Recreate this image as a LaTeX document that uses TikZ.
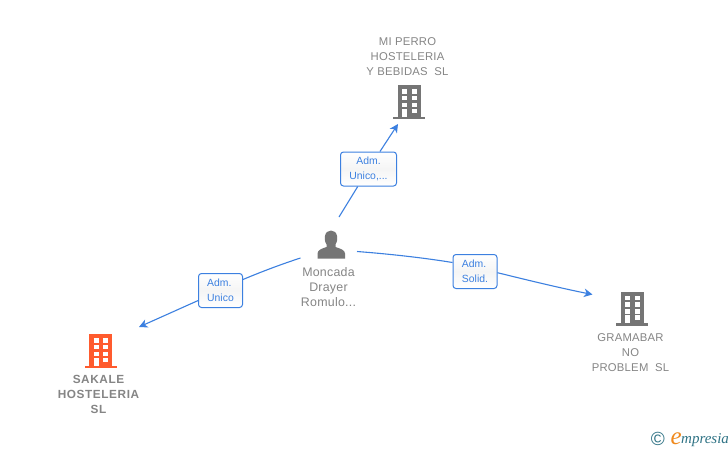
\documentclass[tikz,border=0pt]{standalone}
\usepackage{fontspec}
\setmainfont{Liberation Sans}
\newfontfamily\namefont[LetterSpace=2]{Liberation Sans}
\newfontfamily\boldfont[LetterSpace=5]{Liberation Sans Bold}
\newfontfamily\logofont{Liberation Serif}
\usetikzlibrary{arrows.meta}
\definecolor{bldgray}{HTML}{757575}
\definecolor{txtgray}{HTML}{858585}
\definecolor{bldorange}{HTML}{FF5B2E}
\definecolor{linkblue}{HTML}{3C80E0}
\definecolor{logoteal}{HTML}{2F7385}
\definecolor{logoorange}{HTML}{F08A1E}
\tikzset{
  x=1pt,y=-1pt,
  namelabel/.style={align=center,text=txtgray,font=\fontsize{11.3}{15}\selectfont\namefont,inner sep=0pt},
  personlabel/.style={align=center,text=txtgray,font=\fontsize{12.4}{15}\selectfont\namefont,inner sep=0pt},
  boldlabel/.style={align=center,text=txtgray,font=\fontsize{11.8}{15}\selectfont\boldfont,inner sep=0pt},
  rolebox/.style={draw=linkblue,line width=1pt,rounded corners=3pt,top color=white,bottom color=white,middle color=white!96!black,
    text=linkblue,font=\fontsize{10.4}{15.5}\selectfont,inner sep=0pt},
  link/.style={draw=linkblue,line width=1.1pt},
  linkarrow/.style={link,-{Stealth[length=8.5pt,width=8.5pt,inset=2.5pt]}},
  pics/building/.style={code={
    \fill[#1] (-11.5,-17) rectangle (11.5,14.5);
    \fill[#1] (-16,14.5) rectangle (16,17);
    \foreach \yy in {-13,-6.3,0.7}{
      \fill[white] (-7,\yy) rectangle (-2,\yy+4.6);
      \fill[white] (2.5,\yy) rectangle (7.5,\yy+4.6);
    }
    \fill[white] (-7,6.8) rectangle (-2,14.5);
    \fill[white] (2.5,6.8) rectangle (7.5,11.2);
  }},
}
\begin{document}
\begin{tikzpicture}
\useasboundingbox (0,0) rectangle (728,450);
\fill[white] (0,0) rectangle (728,450);
% buildings
\pic at (409,102) {building=bldgray};
\pic at (632,308.5) {building=bldgray};
\pic at (100.5,351) {building=bldorange};
% person
\fill[bldgray] (317.5,258.5) -- (317.5,253.5) .. controls (317.5,250) and (322,248.5) .. (326.5,247) -- (326.5,244.5)
  .. controls (324.5,241) and (324.5,238) .. (325,236) .. controls (325.5,232.5) and (328,230.5) .. (331,230.5)
  .. controls (334,230.5) and (336.5,232.5) .. (337,236) .. controls (337.5,238) and (337.5,241) .. (335.5,244.5)
  -- (335.5,247) .. controls (340,248.5) and (345,250) .. (345,253.5) -- (345,258.5) -- cycle;
% names
\node[namelabel] (top) at (407.5,56.5) {MI PERRO\\HOSTELERIA\\Y BEBIDAS\ \ SL};
\node[namelabel] (right) at (630.5,352.5) {GRAMABAR\\NO\\PROBLEM\ \ SL};
\node[boldlabel] (left) at (98.5,394.5) {SAKALE\\HOSTELERIA\\SL};
\node[personlabel] (person) at (328.5,287) {Moncada\\Drayer\\Romulo...};
% role boxes
\node[rolebox,align=center,minimum width=56pt,minimum height=34pt] (r1) at (368.5,169) {Adm.\\Unico,...};
\node[rolebox,align=left,minimum width=44pt,minimum height=34pt] (r2) at (220.5,290.5) {Adm.\\Unico};
\node[rolebox,align=left,minimum width=44pt,minimum height=34pt] (r3) at (475,271.5) {Adm.\\Solid.};
% link ends
\coordinate (a1) at (339,217);
\coordinate (e1) at (398,124);
\coordinate (a2) at (300.5,258);
\coordinate (e2) at (139,327);
\coordinate (a3) at (357,251.5);
\coordinate (e3) at (592.5,294.5);
\draw[link] (a1) -- (r1);
\draw[linkarrow] (r1) -- (e1);
\draw[link] (a2) .. controls (282,264) and (262,271.5) .. ([yshift=11pt]r2.east);
\draw[linkarrow] (r2) -- (e2);
\draw[link] (a3) .. controls (390,254) and (425,258) .. ([yshift=9pt]r3.west);
\draw[linkarrow] ([yshift=-1.2pt]r3.east) .. controls (525,279.5) and (560,288) .. (e3);
% logo
\node[inner sep=0pt,text=logoteal,font=\fontsize{19}{19}\selectfont] (c) at (657.8,438.5) {©};
\node[inner sep=0pt,anchor=base west,text=logoorange,font=\fontsize{25}{25}\selectfont\logofont\itshape] (e) at (670.5,444) {e};
\node[inner sep=0pt,anchor=base west,text=logoteal,font=\fontsize{15}{15}\selectfont\logofont\itshape] (m) at (681,443) {mpresia};
\end{tikzpicture}
\end{document}
